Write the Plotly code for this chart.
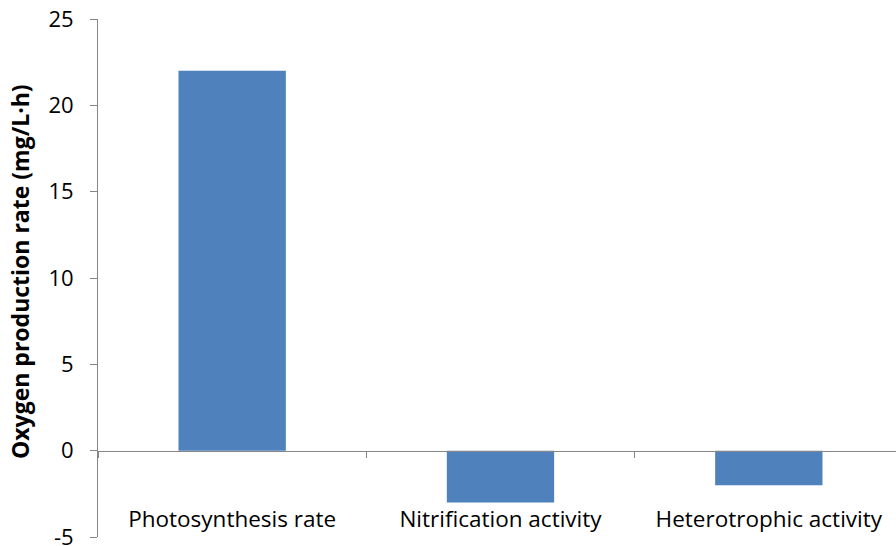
import plotly.graph_objects as go

categories = ["Photosynthesis rate", "Nitrification activity", "Heterotrophic activity"]
values = [22, -3, -2]
y_ticks = [-5, 0, 5, 10, 15, 20, 25]
y_tick_labels = ["-5", "0", "5", "10", "15", "20", "25"]
y_title = "Oxygen production rate (mg/L·h)"

FONT = "Open Sans"
AXIS_COLOR = "#868686"

fig = go.Figure()
fig.add_trace(go.Bar(x=categories, y=values, marker=dict(color="#4F81BD", line=dict(width=0)),
                     width=0.4, hoverinfo="skip"))

fig.update_layout(
    width=896, height=546,
    margin=dict(l=98, r=0, t=19, b=9, autoexpand=False),
    plot_bgcolor="white", paper_bgcolor="white",
    showlegend=False,
    font=dict(family=FONT, size=22, color="black"),
    xaxis=dict(
        type="category", categoryorder="array", categoryarray=categories,
        range=[-0.5, 2.474],
        anchor="free", position=5/30,
        showline=True, linecolor=AXIS_COLOR, linewidth=1,
        ticks="outside", ticklen=6, tickcolor=AXIS_COLOR, tickson="boundaries",
        showgrid=False, zeroline=False, automargin=False,
        ticklabelstandoff=48,
        tickfont=dict(family=FONT, size=22.5, color="black"),
    ),
    yaxis=dict(
        range=[-5, 25], tickvals=y_ticks, ticktext=y_tick_labels,
        showline=True, linecolor=AXIS_COLOR, linewidth=1,
        ticks="outside", ticklen=7, tickcolor=AXIS_COLOR,
        showgrid=False, zeroline=False, automargin=False,
        ticklabelstandoff=12, ticklabeloverflow="allow",
        tickfont=dict(family=FONT, size=22, color="black"),
    ),
    annotations=[dict(
        text="<b>" + y_title + "</b>", textangle=-90,
        xref="paper", yref="paper", x=-0.0977, y=0.5116,
        xanchor="center", yanchor="middle", showarrow=False,
        font=dict(family=FONT, size=23, color="black"),
    )],
)

fig.write_html("out.html", config={"displayModeBar": False},
               post_script="document.body.style.margin='0';")
